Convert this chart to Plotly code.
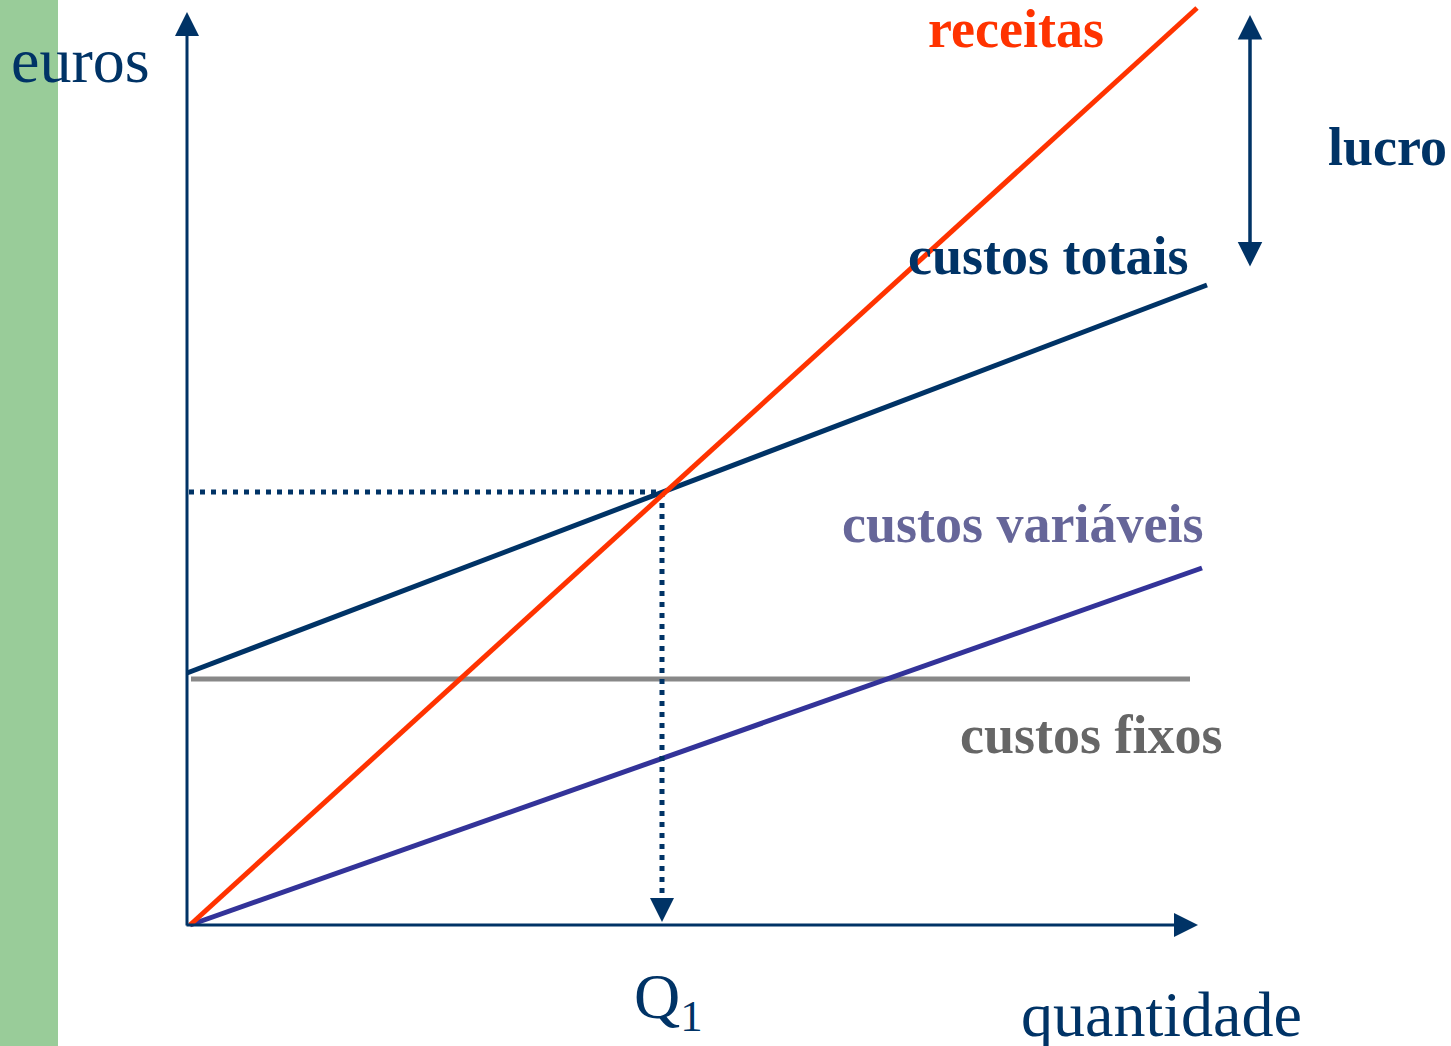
import plotly.graph_objects as go

# Break-even chart: revenue vs. fixed, variable and total costs
quantidade_receitas = [0.0, 10.07]
receitas = [0.0, 9.17]

quantidade_totais = [-0.03, 10.17]
custos_totais = [2.52, 6.40]

quantidade_variaveis = [0.0, 10.12]
custos_variaveis = [0.0, 3.57]

quantidade_fixos = [0.01, 10.0]
custos_fixos = [2.46, 2.46]

q1 = 4.72            # break-even quantity
valor_q1 = 4.33      # revenue = total cost at Q1

lucro_topo = 9.10
lucro_base = 6.57
x_lucro = 10.60

NAVY = "#003366"
RED = "#FF3300"
PURPLE = "#333399"
GREY = "#888888"

W, H = 1451, 1046
FONT = "Liberation Serif"
LW = 5

fig = go.Figure()

fig.add_trace(go.Scatter(x=quantidade_fixos, y=custos_fixos, mode="lines",
                         line=dict(color=GREY, width=LW), hoverinfo="skip"))
fig.add_trace(go.Scatter(x=quantidade_variaveis, y=custos_variaveis, mode="lines",
                         line=dict(color=PURPLE, width=LW), hoverinfo="skip"))
fig.add_trace(go.Scatter(x=quantidade_totais, y=custos_totais, mode="lines",
                         line=dict(color=NAVY, width=LW), hoverinfo="skip"))

# dotted guides to the break-even point
fig.add_trace(go.Scatter(x=[-0.01, q1], y=[valor_q1, valor_q1], mode="lines",
                         line=dict(color=NAVY, width=5, dash="5px,6px"), hoverinfo="skip"))
fig.add_trace(go.Scatter(x=[q1, q1], y=[valor_q1, 0.14], mode="lines",
                         line=dict(color=NAVY, width=5, dash="5px,6px"), hoverinfo="skip"))

fig.add_trace(go.Scatter(x=quantidade_receitas, y=receitas, mode="lines",
                         line=dict(color=RED, width=LW), hoverinfo="skip"))

# left accent band
fig.add_shape(type="rect", xref="paper", yref="paper", x0=0, x1=58 / W, y0=0, y1=1,
              fillcolor="#99CC99", line=dict(width=0), layer="below")

arrows = [
    # vertical axis (euros)
    dict(x=-0.03, y=9.13, ax=-0.03, ay=-0.02, width=3, size=1.6),
    # horizontal axis (quantidade)
    dict(x=10.08, y=0.0, ax=-0.05, ay=0.0, width=3, size=1.6),
    # arrow down to Q1
    dict(x=q1, y=0.03, ax=q1, ay=0.2, width=3, size=1.6),
]
for a in arrows:
    fig.add_annotation(x=a["x"], y=a["y"], ax=a["ax"], ay=a["ay"], xref="x", yref="y",
                       axref="x", ayref="y", text="", showarrow=True, arrowhead=2,
                       arrowsize=a["size"], arrowwidth=a["width"], arrowcolor=NAVY)

# profit span
fig.add_annotation(x=x_lucro, y=lucro_topo, ax=x_lucro, ay=lucro_base, xref="x", yref="y",
                   axref="x", ayref="y", text="", showarrow=True, arrowhead=2, startarrowhead=2,
                   arrowside="end+start", arrowsize=1.4, startarrowsize=1.4, arrowwidth=3.5,
                   arrowcolor=NAVY)

labels = [
    ("euros", 80, 60, 64, "normal", NAVY),
    ("quantidade", 1161, 1014, 64, "normal", NAVY),
    ("Q<sub>1</sub>", 668, 1001, 64, "normal", NAVY),
    ("receitas", 1016, 29, 54, "bold", RED),
    ("lucro", 1387, 147, 54, "bold", NAVY),
    ("custos totais", 1048, 256, 54, "bold", NAVY),
    ("custos variáveis", 1022, 524, 54, "bold", "#666699"),
    ("custos fixos", 1091, 735, 54, "bold", "#666666"),
]
for text, px, py, size, weight, color in labels:
    fig.add_annotation(x=px / W, y=1 - py / H, xref="paper", yref="paper", text=text,
                       showarrow=False, xanchor="center", yanchor="middle",
                       font=dict(family=FONT, size=size, color=color, weight=weight))

fig.update_layout(
    width=W, height=H,
    margin=dict(l=0, r=0, t=0, b=0),
    paper_bgcolor="white", plot_bgcolor="white",
    showlegend=False,
    xaxis=dict(range=[-1.90, 12.61], visible=False, fixedrange=True),
    yaxis=dict(range=[-1.21, 9.25], visible=False, fixedrange=True),
)

fig.write_html("out.html")
